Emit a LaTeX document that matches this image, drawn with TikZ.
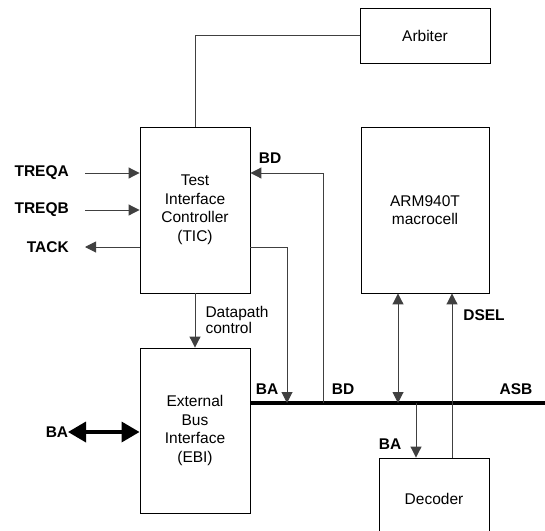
\documentclass[tikz,border=0pt]{standalone}
\usepackage{fontspec}
\setmainfont{Liberation Sans}
\usetikzlibrary{arrows.meta,positioning,calc}

\begin{document}
\begin{tikzpicture}[x=1pt,y=-1pt,font=\fontsize{15.5}{18.5}\selectfont,
  box/.style={draw,line width=0.9pt,align=center,inner sep=0pt},
  sig/.style={font=\fontsize{15.5}{18.5}\selectfont\bfseries,inner sep=0pt},
  ln/.style={line width=1pt,draw=black!75},
  tip/.style={-{Triangle[length=11pt,width=11pt]}},
  dtip/.style={{Triangle[length=11pt,width=11pt]}-{Triangle[length=11pt,width=11pt]}},
  bus/.style={line width=4pt}]

\useasboundingbox (0,0) rectangle (545,530);
\clip (0,0) rectangle (545,530);

\node[box,minimum width=130pt,minimum height=55pt] (arb) at (425,35.5) {Arbiter};
\node[box,minimum width=110pt,minimum height=166pt] (tic) at (195,210) {Test\\Interface\\Controller\\(TIC)};
\node[box,minimum width=128pt,minimum height=166pt] (arm) at (425,210) {ARM940T\\macrocell};
\node[box,minimum width=110pt,minimum height=165pt] (ebi) at (195,430.5) {External\\Bus\\Interface\\(EBI)};
\node[box,minimum width=110pt,minimum height=82pt] (dec) at (434,499) {Decoder};

% signals on the left
\node[sig,anchor=east] (treqa) at (69,173) {TREQA};
\node[sig,anchor=east] (treqb) at (69,210) {TREQB};
\node[sig,anchor=east] (tack) at (69,247) {TACK};
\draw[ln,tip] ([xshift=16pt]treqa.east) -- (treqa -| tic.west);
\draw[ln,tip] ([xshift=16pt]treqb.east) -- (treqb -| tic.west);
\draw[ln,tip] (tack -| tic.west) -- ([xshift=16pt]tack.east);

\draw[ln] (arb.west) -| (tic.north);

% bus
\coordinate (busl) at (250,403);
\coordinate (busr) at (545,403);
\coordinate (batap) at (287,403);
\coordinate (bdtap) at (323,403);
\coordinate (armtap) at (398,403);
\coordinate (dectap) at (416,403);
\coordinate (dseltap) at (452,403);
\draw[bus] (busl) -- (busr);

\draw[ln,tip] (bdtap) |- (tic.east |- treqa);
\draw[ln,tip] (tic.east |- tack) -| (batap);
\draw[ln,tip] (tic) -- (ebi);
\draw[ln,dtip] (armtap) -- (armtap |- arm.south);
\draw[ln,tip] (dectap) -- (dectap |- dec.north);
\draw[ln,tip] (dseltap |- dec.north) -- (dseltap |- arm.south);

\coordinate (baext) at (68,432);
\draw[line width=3.5pt,{Triangle[length=18pt,width=20pt]}-{Triangle[length=18pt,width=20pt]}] (baext) -- (baext -| ebi.west);

\node[sig] (bdlbl) at (270,158) {BD};
\node[sig] (balbl) at (267,389) {BA};
\node[sig] (bdbus) at (343,389) {BD};
\node[sig] (asb) at (516,389) {ASB};
\node[sig] (dsel) at (484,315) {DSEL};
\node[sig] (badec) at (390,444) {BA};
\node[sig] (baebi) at (57,432) {BA};
\node[anchor=west,align=left,font=\fontsize{15.5}{16}\selectfont] (dpc) at (202,320) {Datapath\\control};

\end{tikzpicture}
\end{document}
